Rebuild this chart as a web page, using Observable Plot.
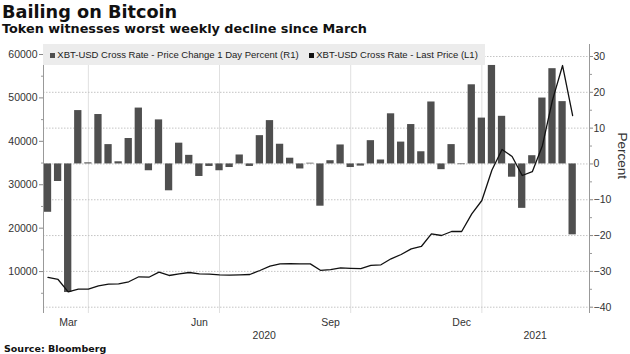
<!DOCTYPE html>
<html><head><meta charset="utf-8">
<script src="https://cdn.jsdelivr.net/npm/d3@7"></script>
<script src="https://cdn.jsdelivr.net/npm/@observablehq/plot@0.6"></script>
<style>
html,body{margin:0;padding:0;background:#fff;}
body{width:630px;height:354px;overflow:hidden;position:relative;font-family:"Liberation Sans",Arial,sans-serif;color:#333;}
#title{position:absolute;left:2px;top:4px;font:bold 17.7px/1 "DejaVu Sans",sans-serif;color:#111;white-space:nowrap;}
#subtitle{position:absolute;left:2px;top:22.5px;font:bold 12.8px/1 "DejaVu Sans",sans-serif;color:#111;white-space:nowrap;}
#chart{position:absolute;left:0;top:40px;width:630px;height:302px;}
#chart svg{position:absolute;left:0;top:0;}
#legend{position:absolute;left:43px;top:44px;width:442px;height:21px;background:#ececec;font:9.5px/21px "Liberation Sans",Arial,sans-serif;color:#222;white-space:nowrap;}
#legend .sw{display:inline-block;width:5px;height:5px;margin-right:2.3px;vertical-align:0px;}
#source{position:absolute;left:4px;top:343.5px;font:bold 9.5px/1 "DejaVu Sans",sans-serif;color:#111;white-space:nowrap;}
</style></head>
<body>
<div id="title"></div>
<div id="subtitle"></div>
<div id="chart"></div>
<div id="legend"></div>
<div id="source"></div>
<script>
const titleText = "Bailing on Bitcoin";
const subtitleText = "Token witnesses worst weekly decline since March";
const sourceText = "Source: Bloomberg";
const legendLabels = ["XBT-USD Cross Rate - Price Change 1 Day Percent (R1)", "XBT-USD Cross Rate - Last Price (L1)"];
const legendColors = ["#4f4f4f", "#111111"];

const weeks = ["2020-03-01","2020-03-08","2020-03-15","2020-03-22","2020-03-29","2020-04-05","2020-04-12","2020-04-19","2020-04-26",
"2020-05-03","2020-05-10","2020-05-17","2020-05-24","2020-05-31","2020-06-07","2020-06-14","2020-06-21","2020-06-28",
"2020-07-05","2020-07-12","2020-07-19","2020-07-26","2020-08-02","2020-08-09","2020-08-16","2020-08-23","2020-08-30",
"2020-09-06","2020-09-13","2020-09-20","2020-09-27","2020-10-04","2020-10-11","2020-10-18","2020-10-25",
"2020-11-01","2020-11-08","2020-11-15","2020-11-22","2020-11-29","2020-12-06","2020-12-13","2020-12-20","2020-12-27",
"2021-01-03","2021-01-10","2021-01-17","2021-01-24","2021-01-31","2021-02-07","2021-02-14","2021-02-21","2021-02-28"];
const pctChange = [-13.5, -4.9, -35.9, 14.9, 0.3, 13.8, 5.4, 0.6, 7.1, 15.6,
-1.9, 12.3, -7.5, 5.8, 2.4, -3.5, -0.7, -1.9, -1.0, 2.5,
-0.7, 7.9, 12.1, 5.5, 1.6, -1.4, 0.2, -11.8, 0.9, 5.3,
-1.0, -0.6, 6.5, 1.1, 14.0, 6.1, 11.0, 3.4, 17.3, -1.6,
5.4, -0.2, 22.1, 12.8, 27.5, 13.3, -3.7, -12.4, 2.3, 18.4,
26.6, 17.4, -19.8];
const lastPrice = [8640, 8180, 5340, 5950, 5950, 6720, 7100, 7180, 7650, 8800,
8700, 9860, 9100, 9490, 9790, 9490, 9400, 9260, 9200, 9250,
9330, 10250, 11240, 11790, 11800, 11790, 11780, 10300, 10450, 10860,
10750, 10680, 11450, 11560, 12940, 13930, 15240, 15780, 18700, 18310,
19230, 19230, 23300, 26370, 33400, 38110, 36500, 32130, 33000, 39000,
49500, 57460, 45940];

const pctTicks = [-40, -30, -20, -10, 0, 10, 20, 30];
const pctMinorTicks = [-35, -25, -15, -5, 5, 15, 25];
const priceTicks = [10000, 20000, 30000, 40000, 50000, 60000];
const priceMinorTicks = [5000, 15000, 25000, 35000, 45000, 55000];
const monthTickDates = ["2020-03-15", "2020-06-14", "2020-09-13", "2020-12-13"];
const monthLabels = ["Mar", "Jun", "Sep", "Dec"];
const yearTickDates = ["2020-07-29", "2021-02-02"];
const yearLabels = ["2020", "2021"];
const gridDates = ["2020-03-29", "2020-06-28", "2020-09-27", "2020-12-27"];
const xDomain = ["2020-02-26T21:00:00Z", "2021-03-11T16:20:00Z"];
const pctDomain = [-41.76, 33.35];
const priceDomain = [345, 62300];
const yAxisLabel = "Percent";

const toDate = s => new Date(s.length > 10 ? s : s + "T00:00:00Z");
const data = weeks.map((w, i) => ({date: toDate(w), pct: pctChange[i], price: lastPrice[i]}));
const halfBar = 2.53 * 864e5;
const monthLabelOf = new Map(monthTickDates.map((d, i) => [+toDate(d), monthLabels[i]]));
const yearLabelOf = new Map(yearTickDates.map((d, i) => [+toDate(d), yearLabels[i]]));
const xDom = xDomain.map(toDate);

document.getElementById("title").textContent = titleText;
document.getElementById("subtitle").textContent = subtitleText;
document.getElementById("source").textContent = sourceText;
const leg = document.getElementById("legend");
legendLabels.forEach((t, i) => {
  const item = document.createElement("span");
  item.style.marginLeft = i === 0 ? "7px" : "10.4px";
  const sw = document.createElement("span");
  sw.className = "sw";
  sw.style.background = legendColors[i];
  item.appendChild(sw);
  item.appendChild(document.createTextNode(t));
  leg.appendChild(item);
});

const common = {
  width: 630, height: 302,
  marginTop: 4, marginBottom: 29, marginLeft: 43, marginRight: 41,
  style: {background: "transparent", fontFamily: '"Liberation Sans", Arial, sans-serif', fontSize: "10.5px", color: "#333", overflow: "visible"}
};

const back = Plot.plot({
  ...common,
  x: {type: "utc", domain: xDom},
  y: {domain: pctDomain},
  marks: [
    Plot.gridX(gridDates.map(toDate), {stroke: "#e0e0e0", strokeOpacity: 1}),
    Plot.gridY(pctTicks, {stroke: "#c4c4c4", strokeOpacity: 1, strokeDasharray: "1.5,1.5"}),
    Plot.rect(data, {x1: d => new Date(+d.date - halfBar), x2: d => new Date(+d.date + halfBar), y1: 0, y2: "pct", fill: legendColors[0]}),
    Plot.ruleX([xDom[1]], {stroke: "#999"}),
    Plot.axisY(pctTicks, {anchor: "right", tickSize: 3, tickPadding: 1, label: null, stroke: "#888", fill: "#333"}),
    Plot.axisY(pctMinorTicks, {anchor: "right", tickSize: 2, tickFormat: () => "", label: null, stroke: "#999"}),
    Plot.axisX(monthTickDates.map(toDate), {anchor: "bottom", tickSize: 0, tickPadding: 5, tickFormat: d => monthLabelOf.get(+d), label: null, fill: "#333"}),
    Plot.axisX(yearTickDates.map(toDate), {anchor: "bottom", tickSize: 0, tickPadding: 18, tickFormat: d => yearLabelOf.get(+d), label: null, fill: "#333"}),
    Plot.text([yAxisLabel], {text: d => d, frameAnchor: "right", rotate: 90, dx: 33, fontSize: 13.5, fill: "#333"})
  ]
});

const front = Plot.plot({
  ...common,
  x: {type: "utc", domain: xDom, axis: null},
  y: {domain: priceDomain},
  marks: [
    Plot.ruleX([xDom[0]], {stroke: "#999"}),
    Plot.axisY(priceTicks, {anchor: "left", tickSize: 4, tickPadding: 2, tickFormat: d3.format("d"), label: null, stroke: "#888", fill: "#333"}),
    Plot.axisY(priceMinorTicks, {anchor: "left", tickSize: 2, tickFormat: () => "", label: null, stroke: "#999"}),
    Plot.line(data, {x: "date", y: "price", stroke: legendColors[1], strokeWidth: 1.3})
  ]
});

const chart = document.getElementById("chart");
chart.appendChild(back);
chart.appendChild(front);
</script>
</body></html>
